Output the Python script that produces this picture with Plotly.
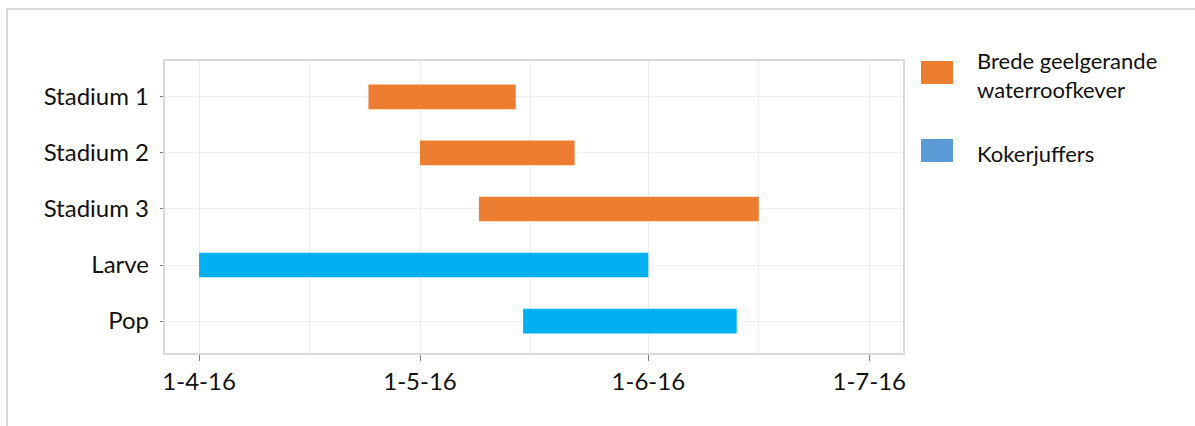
import plotly.graph_objects as go
import pandas as pd

# Life stages (top to bottom) and their periods
stages = ["Stadium 1", "Stadium 2", "Stadium 3", "Larve", "Pop"]
species = ["Brede geelgerande waterroofkever", "Brede geelgerande waterroofkever",
           "Brede geelgerande waterroofkever", "Kokerjuffers", "Kokerjuffers"]
start_dates = ["2016-04-24", "2016-05-01", "2016-05-09", "2016-04-01", "2016-05-15"]
end_dates = ["2016-05-14", "2016-05-22", "2016-06-16", "2016-06-01", "2016-06-13"]

series_names = ["Brede geelgerande waterroofkever", "Kokerjuffers"]
legend_labels = ["Brede geelgerande<br>waterroofkever", "Kokerjuffers"]
bar_colors = {"Brede geelgerande waterroofkever": "#ED7D31", "Kokerjuffers": "#00B0F0"}
legend_colors = {"Brede geelgerande waterroofkever": "#ED7D31", "Kokerjuffers": "#5B9BD5"}

major_ticks = ["2016-04-01", "2016-05-01", "2016-06-01", "2016-07-01"]
minor_ticks = ["2016-04-16", "2016-05-16", "2016-06-16"]

FONT = "Lato, 'Open Sans', sans-serif"
W, H = 1195, 426
L, R, T, B = 165, 903, 61, 353  # plot area in pixels

fig = go.Figure()
for name in series_names:
    idx = [i for i, s in enumerate(species) if s == name]
    base = [start_dates[i] for i in idx]
    dur = [(pd.Timestamp(end_dates[i]) - pd.Timestamp(start_dates[i])).total_seconds() * 1000
           for i in idx]
    fig.add_trace(go.Bar(
        y=[stages[i] for i in idx], x=dur, base=base, orientation="h",
        name=name, marker=dict(color=bar_colors[name], line=dict(width=0)),
        width=0.44, showlegend=False,
    ))

fig.update_layout(
    width=W, height=H,
    margin=dict(l=L, r=W - R, t=T, b=H - B),
    paper_bgcolor="white", plot_bgcolor="white",
    font=dict(family=FONT, size=24, color="#111111"),
    barmode="overlay",
)
fig.update_xaxes(
    type="date",
    range=["2016-03-27 09:00", "2016-07-05 14:00"],
    tickvals=major_ticks, tickformat="%-d-%-m-%y",
    ticks="outside", ticklen=6, tickcolor="#7f7f7f", tickwidth=1,
    showgrid=True, gridcolor="#ededed", gridwidth=1,
    minor=dict(tickvals=minor_ticks, showgrid=True, gridcolor="#ededed", ticks=""),
    showline=True, linecolor="#d9d9d9", linewidth=2, mirror=True,
    zeroline=False, tickfont=dict(size=24),
)
fig.update_yaxes(
    type="category", categoryorder="array", categoryarray=stages[::-1],
    range=[-0.57, 4.64],
    ticks="outside", ticklen=3, tickcolor="#7f7f7f",
    showgrid=True, gridcolor="#ededed",
    showline=True, linecolor="#d9d9d9", linewidth=2, mirror=True,
    tickfont=dict(size=24), ticksuffix=" ",
)

# Outer chart border
def px_x(p):
    return (p - L) / (R - L)

def px_y(p):
    return (B - p) / (B - T)

fig.add_shape(type="rect", xref="paper", yref="paper",
              x0=px_x(7), x1=px_x(W + 20), y0=px_y(H + 20), y1=px_y(9),
              line=dict(color="#d9d9d9", width=2), fillcolor="rgba(0,0,0,0)", layer="below")

# Legend drawn as boxes with labels
legend_rows = [(61, 84, 75), (139, 162, 153)]
for name, label, (y0, y1, ty) in zip(series_names, legend_labels, legend_rows):
    fig.add_shape(type="rect", xref="paper", yref="paper",
                  x0=px_x(921), x1=px_x(953), y0=px_y(y1), y1=px_y(y0),
                  line=dict(width=0), fillcolor=legend_colors[name])
    fig.add_annotation(xref="paper", yref="paper", x=px_x(975), y=px_y(ty),
                       text=label, showarrow=False, xanchor="left", yanchor="middle",
                       align="left", font=dict(size=22, family=FONT, color="#111111"))

fig.write_html("out.html")
